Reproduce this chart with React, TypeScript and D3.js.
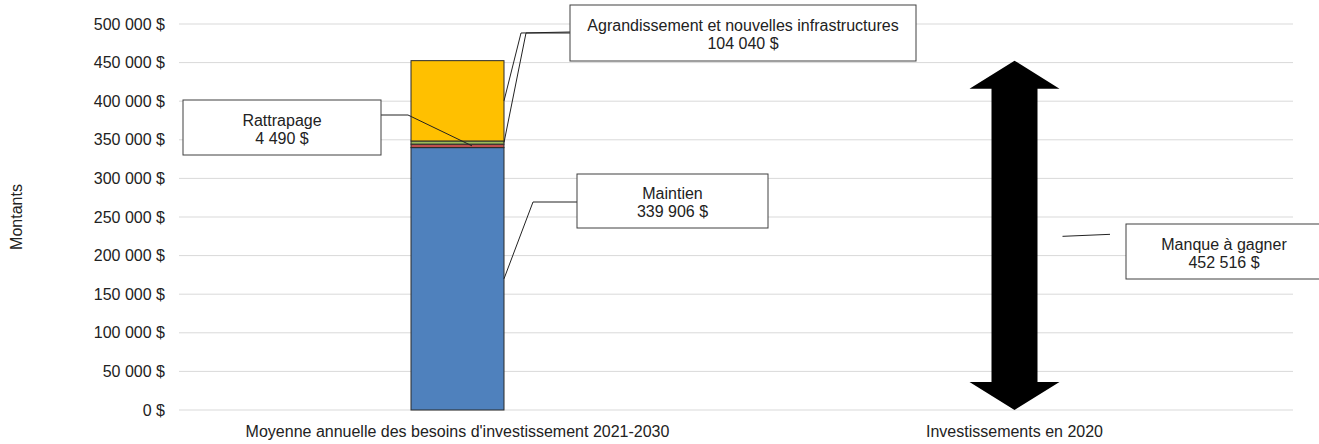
import React from "react";
import * as d3 from "d3";

// data
const categories = ["Moyenne annuelle des besoins d'investissement 2021-2030", "Investissements en 2020"];
const seriesNames = ["Maintien", "Rattrapage", "Autre", "Agrandissement et nouvelles infrastructures"];
const seriesValues = [339906, 4490, 4080, 104040];
const seriesColors = ["#4F81BD", "#C0504D", "#9BBB59", "#FFC000"];
const gapValue = 452516;
const gapLabel = "Manque à gagner";
const yTicks = [0, 50000, 100000, 150000, 200000, 250000, 300000, 350000, 400000, 450000, 500000];

const locale = d3.formatLocale({ decimal: ",", thousands: " ", grouping: [3], currency: ["", " $"] });
const fmt = locale.format("$,");

export default function App() {
  const width = 1319;
  const height = 444;
  const margin = { top: 24, right: 26, bottom: 34, left: 179 };
  const font = "Liberation Sans, Arial, sans-serif";
  const fs = 16;

  const x = d3.scalePoint().domain(categories).range([margin.left, width - margin.right]).padding(0.5);
  const y = d3.scaleLinear().domain([0, 500000]).range([height - margin.bottom, margin.top]);
  const barW = 93;

  const stack = d3.stack().keys(seriesNames);
  const row: any = { cat: categories[0] };
  seriesNames.forEach((k, i) => (row[k] = seriesValues[i]));
  const series = stack([row]);

  const bx = x(categories[0])! - barW / 2;
  const bRight = bx + barW;
  const mid = (i: number) => y((series[i][0][0] + series[i][0][1]) / 2);

  // arrow for the gap
  const ax = x(categories[1])!;
  const top = y(gapValue);
  const bot = y(0);
  const hw = 45, sw = 23, hh = 28;
  const arrow = [
    [ax, top], [ax + hw, top + hh], [ax + sw, top + hh], [ax + sw, bot - hh], [ax + hw, bot - hh],
    [ax, bot], [ax - hw, bot - hh], [ax - sw, bot - hh], [ax - sw, top + hh], [ax - hw, top + hh],
  ];

  const box = (bxx: number, byy: number, w: number, h: number, l1: string, l2: string) => (
    <g>
      <rect x={bxx} y={byy} width={w} height={h} fill="#fff" stroke="#404040" strokeWidth={1} />
      <text x={bxx + w / 2} y={byy + h / 2 - 2} textAnchor="middle" fontSize={fs} fontFamily={font} fill="#222">{l1}</text>
      <text x={bxx + w / 2} y={byy + h / 2 + 16} textAnchor="middle" fontSize={fs} fontFamily={font} fill="#222">{l2}</text>
    </g>
  );

  return (
    <svg width={width} height={height} style={{ position: "absolute", left: 0, top: 0 }}>
      <rect width={width} height={height} fill="#fff" />
      {yTicks.map((t) => (
        <g key={t}>
          <line x1={margin.left} x2={width - margin.right} y1={y(t)} y2={y(t)} stroke="#d9d9d9" strokeWidth={1} />
          <text x={165} y={y(t) + 5.5} textAnchor="end" fontSize={fs} fontFamily={font} fill="#222">{fmt(t)}</text>
        </g>
      ))}
      <text transform={`translate(22,${(y(0) + y(500000)) / 2}) rotate(-90)`} textAnchor="middle" fontSize={fs} fontFamily={font} fill="#222">Montants</text>
      {categories.map((c) => (
        <text key={c} x={x(c)} y={height - 7} textAnchor="middle" fontSize={fs} fontFamily={font} fill="#222">{c}</text>
      ))}

      {series.map((s, i) => (
        <rect key={s.key} x={bx} y={y(s[0][1])} width={barW} height={y(s[0][0]) - y(s[0][1])}
          fill={seriesColors[i]} stroke="#2a2a2a" strokeWidth={1} />
      ))}

      <polygon points={arrow.map((p) => p.join(",")).join(" ")} fill="#000" />

      {/* leaders */}
      <g fill="none" stroke="#222" strokeWidth={1}>
        <polyline points={`381,115 408,115 ${bx + 61},${mid(1)}`} />
        <polyline points={`577,202 533,202 ${bRight},${mid(0)}`} />
        <polyline points={`570,32 521,33 ${bRight},${mid(3)}`} />
        <polyline points={`570,33 526,33 ${bRight},${mid(2)}`} />
        <line x1={ax + 48} x2={1110} y1={y(gapValue / 2) + 1} y2={y(gapValue / 2) - 1} />
      </g>

      {box(570, 5, 346, 56, seriesNames[3], fmt(seriesValues[3]))}
      {box(183, 100, 198, 55, seriesNames[1], fmt(seriesValues[1]))}
      {box(577, 174, 191, 54, seriesNames[0], fmt(seriesValues[0]))}
      {box(1126, 224, 196, 55, gapLabel, fmt(gapValue))}
    </svg>
  );
}
